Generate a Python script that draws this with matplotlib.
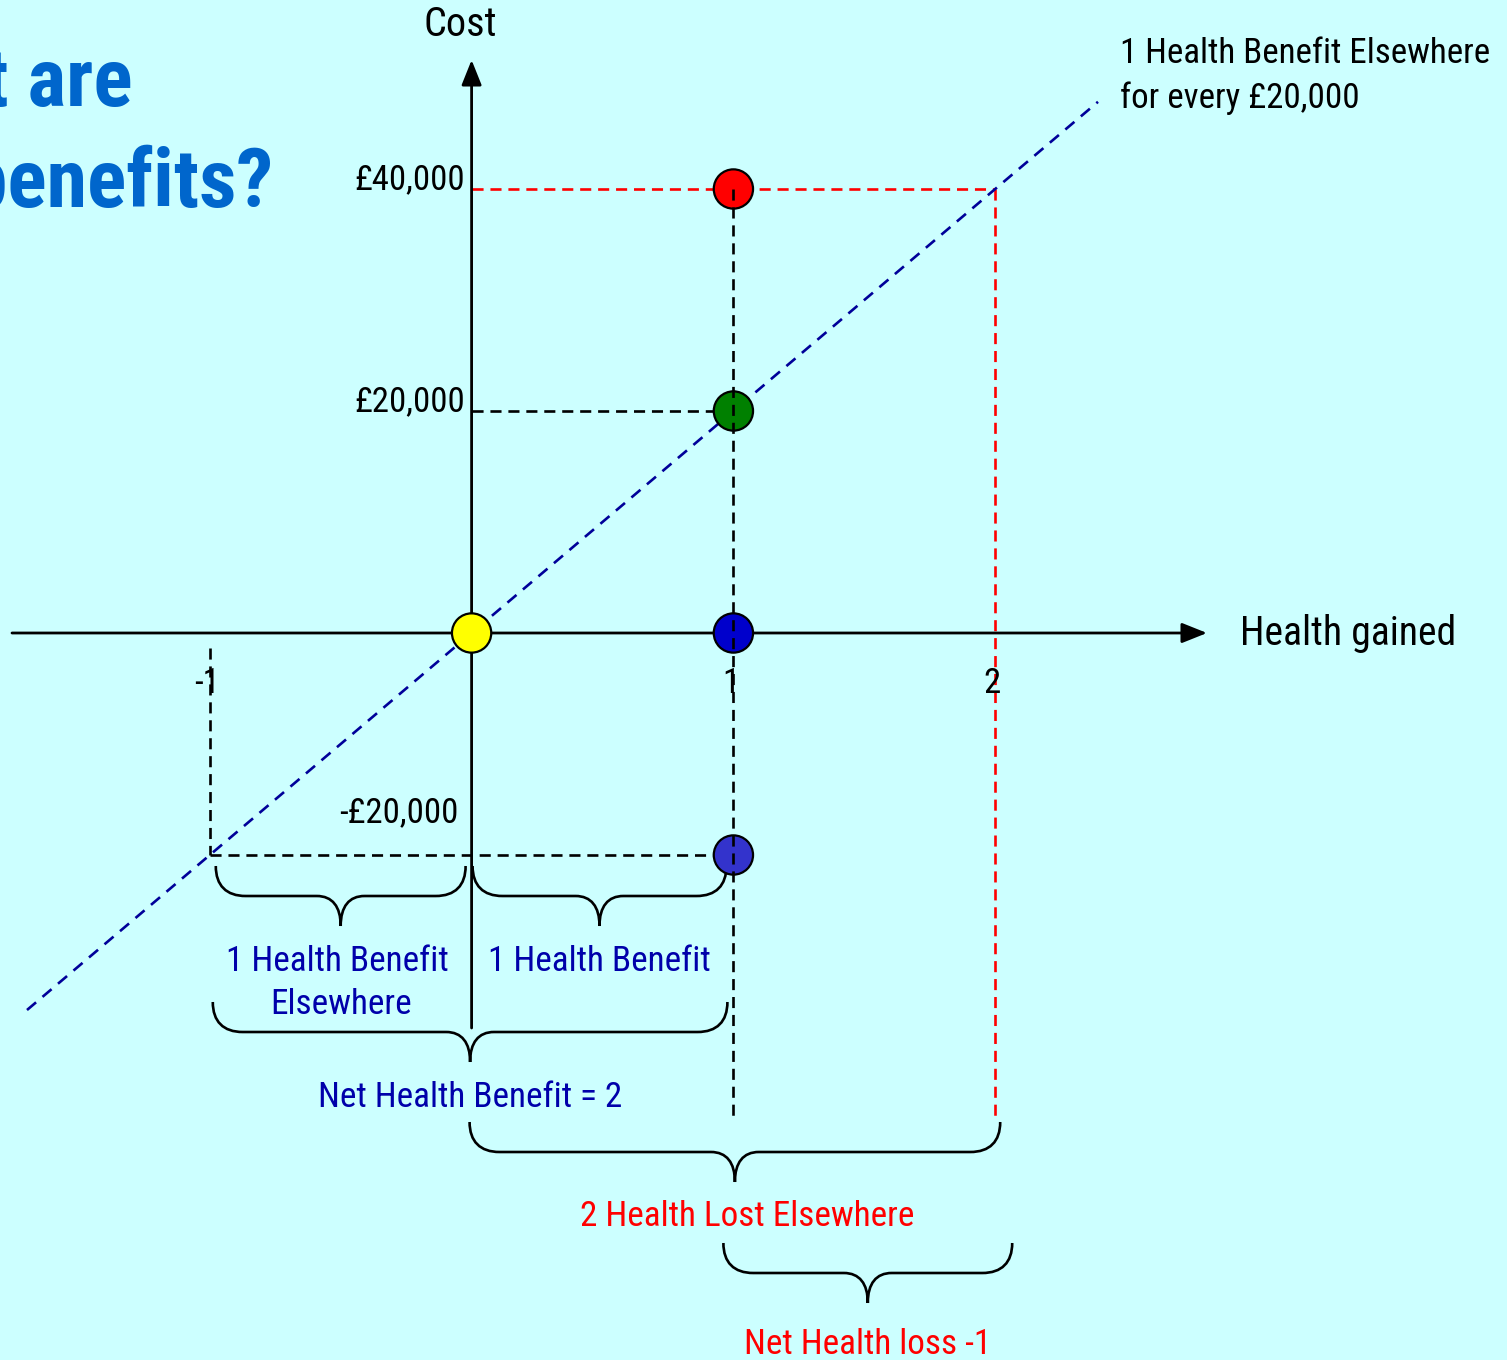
import matplotlib
matplotlib.use("Agg")
import matplotlib.pyplot as plt
from matplotlib.path import Path
from matplotlib.patches import PathPatch

# ---- data -------------------------------------------------------------
threshold = 20000                      # cost per unit of health displaced elsewhere
cost_ticks = [40000, 20000, -20000]
cost_tick_labels = ["£40,000", "£20,000", "-£20,000"]
health_ticks = [-1, 1, 2]
health_tick_labels = ["-1", "1", "2"]

point_health = [0, 1, 1, 1, 1]
point_cost = [0, 0, 20000, 40000, -20000]
point_colors = ["#FFFF00", "#0000CC", "#008000", "#FF0000", "#3333CC"]

# brace spans along the health axis
brace_spans = [(-1, 0), (0, 1), (-1, 1), (0, 2), (1, 2)]

# ---- fonts ------------------------------------------------------------
plt.rcParams["font.family"] = ["Roboto Condensed", "DejaVu Sans"]

BG = "#CCFFFF"
BLUE_TXT = "#0000AA"
RED = "#FF0000"

W, H = 1507, 1360
fig = plt.figure(figsize=(W / 100, H / 100), dpi=100, facecolor=BG)
ax = fig.add_axes([0, 0, 1, 1])
ax.set_facecolor(BG)
ax.axis("off")

# linear scales: pixels per health unit / per pound
X0, SX = 471.6, 261.8
Y0, SY = 633.0, 222.0 / 20000
ax.set_xlim(-X0 / SX, (W - X0) / SX)
ax.set_ylim((Y0 - H) / SY, Y0 / SY)


def px_x(p):
    return (p - X0) / SX


def px_y(p):
    return (Y0 - p) / SY


DX = 1 / SX   # data units per pixel, horizontally
DY = 1 / SY   # data units per pixel, vertically

# ---- axes with arrows -------------------------------------------------
arrow = dict(arrowstyle="-|>,head_length=0.7,head_width=0.28", lw=2.0,
             color="black", mutation_scale=22, shrinkA=0, shrinkB=0)
ax.annotate("", xy=(px_x(1207), 0), xytext=(px_x(12), 0), arrowprops=arrow, zorder=3)
ax.annotate("", xy=(0, px_y(60)), xytext=(0, px_y(1028)), arrowprops=arrow, zorder=3)

# ---- guide lines ------------------------------------------------------
dash = dict(lw=1.9, dashes=(4.2, 2.6))
bottom_guide = px_y(1120)
ax.plot([0, 2], [40000, 40000], color=RED, zorder=2, **dash)
ax.plot([2, 2], [40000, bottom_guide], color=RED, zorder=2, **dash)
ax.plot([0, 1], [20000, 20000], color="black", zorder=2, **dash)
ax.plot([-1, 1], [-20000, -20000], color="black", zorder=2, **dash)
ax.plot([-1, -1], [px_y(648), -20000], color="black", zorder=2, **dash)

# opportunity-cost line: one unit of health per £20,000
h_line = [px_x(27), px_x(1098)]
ax.plot(h_line, [h * threshold for h in h_line], color="#000099",
        lw=1.9, dashes=(4.5, 3.2), zorder=2)

# ---- points -----------------------------------------------------------
ax.scatter(point_health, point_cost, s=800, c=point_colors,
           edgecolors="black", linewidths=1.6, zorder=4)

# vertical guide at health = 1 sits on top of the points
ax.plot([1, 1], [40000, bottom_guide], color="black", zorder=5, **dash)

# ---- tick labels ------------------------------------------------------
for v, lab in zip(cost_ticks, cost_tick_labels):
    if v > 0:
        ax.text(px_x(465), v, lab, ha="right", va="baseline", fontsize=25)
    else:
        ax.text(px_x(458), v + 33 * DY, lab, ha="right", va="baseline", fontsize=25)

for v, lab in zip(health_ticks, health_tick_labels):
    ax.text(v - 3 * DX, px_y(684), lab, ha="center", va="center", fontsize=25)

ax.text(px_x(460), px_y(25), "Cost", ha="center", va="center", fontsize=29)
ax.text(px_x(1240), px_y(645), "Health gained", ha="left", va="baseline", fontsize=28.5)
ax.text(px_x(1120), px_y(63), "1 Health Benefit Elsewhere", ha="left",
        va="baseline", fontsize=25.2)
ax.text(px_x(1120), px_y(108), "for every £20,000", ha="left",
        va="baseline", fontsize=25.2)

# ---- title (partly off the left edge) --------------------------------
title_kw = dict(ha="right", va="baseline", fontsize=59, fontweight="bold",
                color="#0066CC")
ax.text(px_x(133), px_y(106), "What are", **title_kw)
ax.text(px_x(273), px_y(207), "the benefits?", **title_kw)


# ---- curly braces -----------------------------------------------------
def brace(x_left, x_right, top_px, arm=30, depth=30, r=30, c=24, pad=(0, 0)):
    xl = x_left + pad[0] * DX
    xr = x_right + pad[1] * DX
    xm = (xl + xr) / 2
    top = px_y(top_px)
    line = top - arm * DY
    tip = line - depth * DY
    rr, cc = r * DX, c * DX
    verts = [
        (xl, top),
        (xl, top - arm * 0.65 * DY), (xl + rr * 0.35, line), (xl + rr, line),
        (xm - cc, line),
        (xm - cc * 0.35, line), (xm, line - depth * 0.35 * DY), (xm, tip),
        (xm, line - depth * 0.35 * DY), (xm + cc * 0.35, line), (xm + cc, line),
        (xr - rr, line),
        (xr - rr * 0.35, line), (xr, top - arm * 0.65 * DY), (xr, top),
    ]
    codes = ([Path.MOVETO] + [Path.CURVE4] * 3 + [Path.LINETO] + [Path.CURVE4] * 6
             + [Path.LINETO] + [Path.CURVE4] * 3)
    ax.add_patch(PathPatch(Path(verts, codes), fill=False, lw=1.9,
                           edgecolor="black", zorder=3))
    return xm


brace_tops = [866, 866, 1002, 1122, 1243]
brace_pads = [(6, -6), (1, -7), (3, -6), (-2, 5), (-10, 17)]
mids = [brace(a, b, t, pad=p) for (a, b), t, p in zip(brace_spans, brace_tops, brace_pads)]

lab_kw = dict(ha="center", va="baseline", fontsize=25.3)
ax.text(mids[0] - 3 * DX, px_y(971), "1 Health Benefit", color=BLUE_TXT, **lab_kw)
ax.text(mids[0], px_y(1014), "Elsewhere", color=BLUE_TXT, **lab_kw)
ax.text(mids[1], px_y(971), "1 Health Benefit", color=BLUE_TXT, **lab_kw)
ax.text(mids[2], px_y(1107), "Net Health Benefit = 2", color=BLUE_TXT, **lab_kw)
ax.text(mids[3] + 12 * DX, px_y(1226), "2 Health Lost Elsewhere", color=RED, **lab_kw)
ax.text(mids[4], px_y(1354), "Net Health loss -1", color=RED, **lab_kw)

fig.savefig("out.png", dpi=100, facecolor=BG)
